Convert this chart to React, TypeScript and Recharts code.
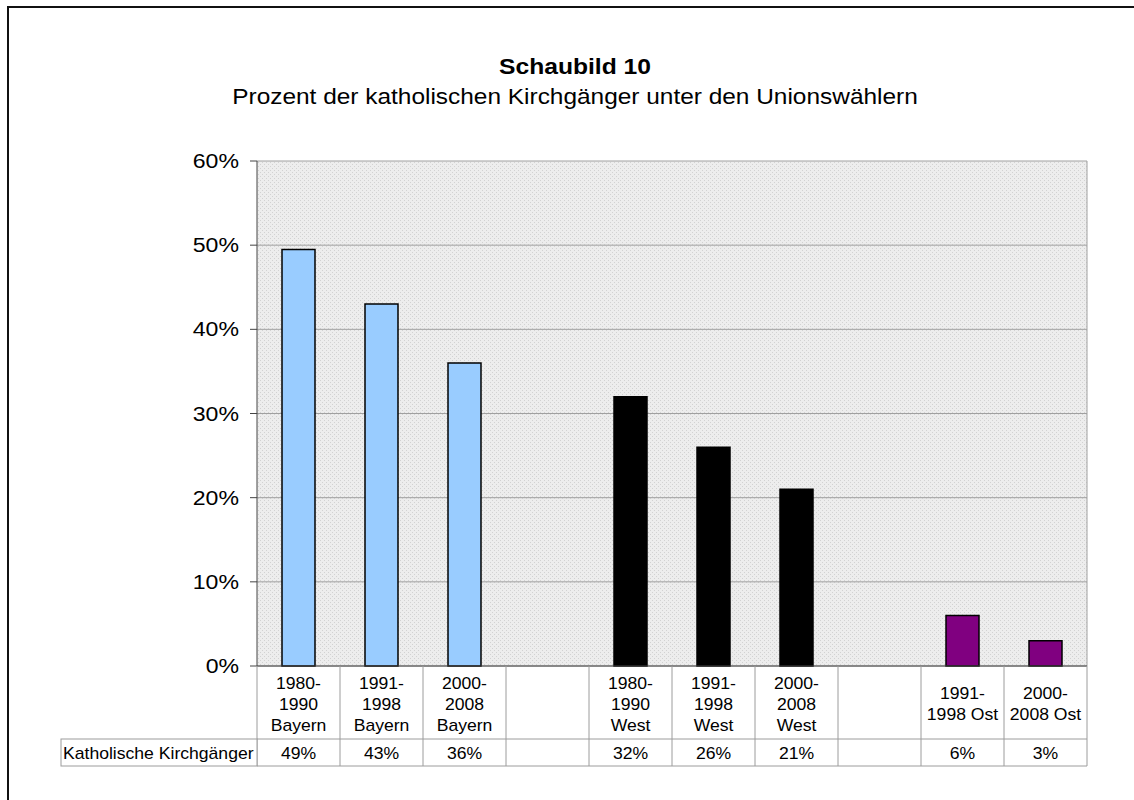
import { BarChart, Bar, XAxis, YAxis, CartesianGrid, Cell } from 'recharts';

// categories of the data table (one entry per slot, empty slots are spacers)
const categoryLines: string[][] = [
  ['1980-', '1990', 'Bayern'],
  ['1991-', '1998', 'Bayern'],
  ['2000-', '2008', 'Bayern'],
  [],
  ['1980-', '1990', 'West'],
  ['1991-', '1998', 'West'],
  ['2000-', '2008', 'West'],
  [],
  ['1991-', '1998 Ost'],
  ['2000-', '2008 Ost'],
];
const groups = ['Bayern', 'Bayern', 'Bayern', '', 'West', 'West', 'West', '', 'Ost', 'Ost'];
const values: (number | null)[] = [49.5, 43, 36, null, 32, 26, 21, null, 6, 3];
const tableValues = ['49%', '43%', '36%', '', '32%', '26%', '21%', '', '6%', '3%'];
const seriesName = 'Katholische Kirchgänger';
const yTicks = [0, 10, 20, 30, 40, 50, 60];

const GROUP_COLORS: Record<string, string> = {
  Bayern: '#99ccff',
  West: '#000000',
  Ost: '#800080',
};

const data = values.map((v, i) => ({ cat: `c${i}`, value: v, group: groups[i] }));

const W = 1134;
const H = 800;
const PLOT_LEFT = 257;
const PLOT_RIGHT = 1087;
const PLOT_TOP = 161;
const PLOT_BOTTOM = 666;
const Y_AXIS_W = 80;
const ROW1 = 73;
const ROW2 = 27;
const SLOT = (PLOT_RIGHT - PLOT_LEFT) / values.length;
const FONT = 'Arial, "Liberation Sans", sans-serif';
const TABLE_LINE = '#9c9c9c';
const SX = 1.1; // the original text is a bit wider than Arial

function SText({ x, y, anchor = 'middle', children }: any) {
  return (
    <text transform={`translate(${x} ${y}) scale(${SX} 1)`} textAnchor={anchor}>
      {children}
    </text>
  );
}

function TableTick(props: any) {
  const { x, y, payload } = props;
  const i = payload.index as number;
  const left = x - SLOT / 2;
  const right = x + SLOT / 2;
  const lines = categoryLines[i] || [];
  const lh = 21;
  const mid = ROW1 / 2 + 1;
  const start = mid - ((lines.length - 1) * lh) / 2;
  return (
    <g fontFamily={FONT} fontSize={16} fill="#000">
      {i === 0 && <line x1={left} y1={y} x2={left} y2={y + ROW1 + ROW2} stroke={TABLE_LINE} />}
      <line x1={right} y1={y} x2={right} y2={y + ROW1 + ROW2} stroke={TABLE_LINE} />
      <line x1={left} y1={y + ROW1} x2={right} y2={y + ROW1} stroke={TABLE_LINE} />
      <line x1={left} y1={y + ROW1 + ROW2} x2={right} y2={y + ROW1 + ROW2} stroke={TABLE_LINE} />
      {lines.map((t, k) => (
        <SText key={k} x={x} y={y + start + k * lh + 6}>
          {t}
        </SText>
      ))}
      <SText x={x} y={y + ROW1 + ROW2 / 2 + 6}>
        {tableValues[i]}
      </SText>
      {i === 0 && (
        <g>
          <rect
            x={left - 196}
            y={y + ROW1}
            width={196}
            height={ROW2}
            fill="#fff"
            stroke={TABLE_LINE}
          />
          <SText x={left - 194} y={y + ROW1 + ROW2 / 2 + 6} anchor="start">
            {seriesName}
          </SText>
        </g>
      )}
    </g>
  );
}

function YTick(props: any) {
  const { x, y, payload } = props;
  return (
    <g fontFamily={FONT} fontSize={21} fill="#000">
      <SText x={x} y={y + 7} anchor="end">
        {`${payload.value}%`}
      </SText>
    </g>
  );
}

export default function App() {
  return (
    <div
      style={{
        position: 'absolute',
        left: 0,
        top: 0,
        width: W,
        height: H,
        background: '#fff',
        fontFamily: FONT,
        overflow: 'hidden',
      }}
    >
      <div
        style={{
          position: 'absolute',
          left: 7,
          top: 6,
          width: W,
          height: H,
          borderLeft: '2px solid #111',
          borderTop: '2px solid #111',
        }}
      />
      <div
        style={{
          position: 'absolute',
          left: 0,
          width: 1150,
          top: 52,
          textAlign: 'center',
          fontSize: 22,
          fontWeight: 'bold',
          lineHeight: '30px',
          transform: 'scaleX(1.12)',
        }}
      >
        Schaubild 10
      </div>
      <div
        style={{
          position: 'absolute',
          left: 0,
          width: 1150,
          top: 82,
          textAlign: 'center',
          fontSize: 22,
          lineHeight: '30px',
          transform: 'scaleX(1.11)',
        }}
      >
        Prozent der katholischen Kirchgänger unter den Unionswählern
      </div>
      <div style={{ position: 'absolute', left: 0, top: 0 }}>
        <BarChart
          width={W}
          height={H}
          data={data}
          barCategoryGap={0}
          margin={{
            top: PLOT_TOP,
            right: W - PLOT_RIGHT,
            left: PLOT_LEFT - Y_AXIS_W,
            bottom: H - PLOT_BOTTOM - ROW1 - ROW2,
          }}
        >
          <defs>
            <pattern id="stipple" width="4" height="4" patternUnits="userSpaceOnUse">
              <rect width="4" height="4" fill="#ededed" />
              <rect x="0" y="0" width="1" height="1" fill="#d2d2d2" />
              <rect x="2" y="2" width="1" height="1" fill="#d2d2d2" />
            </pattern>
          </defs>
          <CartesianGrid
            fill="url(#stipple)"
            stroke="#a0a0a0"
            verticalCoordinatesGenerator={({ offset }: any) => [offset.left + offset.width]}
          />
          <XAxis
            dataKey="cat"
            interval={0}
            height={ROW1 + ROW2}
            tickSize={0}
            tickMargin={0}
            axisLine={{ stroke: '#444' }}
            tick={<TableTick />}
          />
          <YAxis
            width={Y_AXIS_W}
            domain={[0, 60]}
            ticks={yTicks}
            interval={0}
            tickSize={7}
            tickMargin={11}
            axisLine={{ stroke: '#444' }}
            tickLine={{ stroke: '#444' }}
            tick={<YTick />}
          />
          <Bar dataKey="value" barSize={33} stroke="#000" strokeWidth={1.5} isAnimationActive={false}>
            {data.map((d, i) => (
              <Cell key={i} fill={GROUP_COLORS[d.group] || 'none'} />
            ))}
          </Bar>
        </BarChart>
      </div>
    </div>
  );
}
